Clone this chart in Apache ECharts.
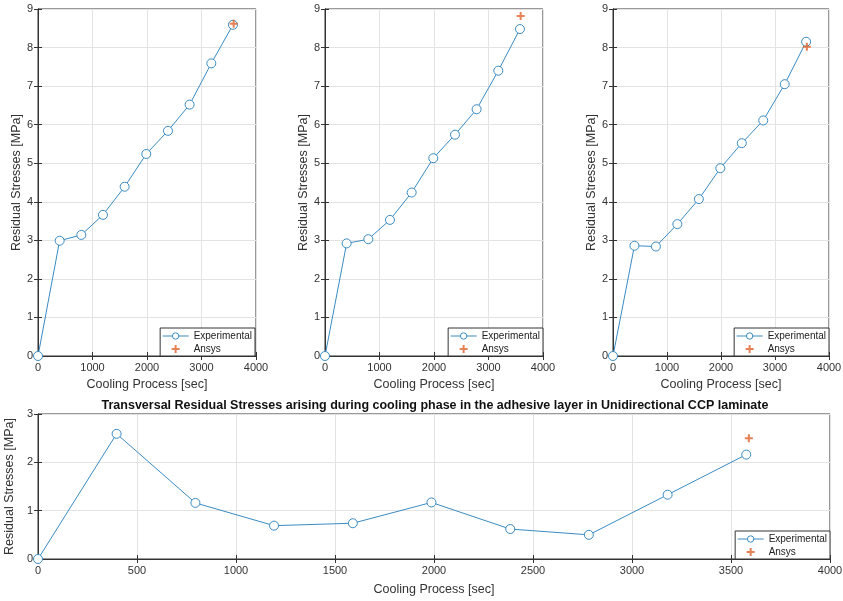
<!DOCTYPE html>
<html><head><meta charset="utf-8">
<script src="https://cdn.jsdelivr.net/npm/echarts@6/dist/echarts.min.js"></script>
<style>html,body{margin:0;padding:0;background:#fff}#c{width:843px;height:601px}</style>
</head><body><div id="c"></div>
<script>
var times = [0, 397, 795, 1192, 1590, 1987, 2385, 2782, 3180, 3577];
var exp1 = [0, 2.99, 3.14, 3.66, 4.39, 5.24, 5.84, 6.52, 7.59, 8.59];
var exp2 = [0, 2.92, 3.03, 3.53, 4.24, 5.13, 5.74, 6.40, 7.40, 8.48];
var exp3 = [0, 2.86, 2.84, 3.42, 4.07, 4.87, 5.52, 6.11, 7.05, 8.15];
var exp4 = [0, 2.59, 1.16, 0.69, 0.74, 1.17, 0.62, 0.50, 1.33, 2.16];
var ansysTime = 3590;
var ansys = [8.62, 8.82, 8.02, 2.50];
var titleText = 'Transversal Residual Stresses arising during cooling phase in the adhesive layer in Unidirectional CCP laminate';
var xName = 'Cooling Process [sec]';
var yName = 'Residual Stresses [MPa]';

var FONT = 'Liberation Sans';
var BLUE = '#3a8bc2';
var ORANGE = '#e0622a';
var PLUS = 'path://M3,0H5V3H8V5H5V8H3V5H0V3H3Z';

var grids = [
  {left: 38, top: 9, width: 218, height: 347},
  {left: 325, top: 9, width: 218, height: 347},
  {left: 613, top: 9, width: 216, height: 347},
  {left: 38, top: 414, width: 792, height: 145}
];
var expAll = [exp1, exp2, exp3, exp4];
var xAxes = [], yAxes = [], series = [], legends = [];
var legendPos = [
  {right: 588, bottom: 245},
  {right: 300, bottom: 245},
  {right: 14, bottom: 245},
  {right: 13, bottom: 42}
];
function plain(v){ return String(v); }
grids.forEach(function(g, i){
  g.show = true; g.borderColor = '#333'; g.borderWidth = 1; g.containLabel = false;
  g.outerBoundsMode = 'none';
  var bottomPlot = i === 3;
  var lblStyle = {color: '#333', fontFamily: FONT, fontSize: 11, formatter: plain};
  xAxes.push({
    type: 'value', gridIndex: i, min: 0, max: 4000, interval: bottomPlot ? 500 : 1000,
    name: xName, nameLocation: 'middle', nameGap: bottomPlot ? 24 : 20,
    nameTextStyle: {color: '#333', fontFamily: FONT, fontSize: 12.5},
    axisLine: {show: true, lineStyle: {color: '#333'}},
    axisTick: {show: true, inside: true, length: 4, lineStyle: {color: '#333'}},
    axisLabel: Object.assign({margin: 6}, lblStyle),
    splitLine: {show: true, lineStyle: {color: '#e3e3e3'}}
  });
  xAxes.push({
    type: 'value', gridIndex: i, min: 0, max: 4000, interval: bottomPlot ? 500 : 1000, position: 'top',
    axisLine: {show: true, lineStyle: {color: '#333'}},
    axisTick: {show: true, inside: true, length: 4, lineStyle: {color: '#333'}},
    axisLabel: {show: false}, splitLine: {show: false}
  });
  yAxes.push({
    type: 'value', gridIndex: i, min: 0, max: bottomPlot ? 3 : 9, interval: 1,
    name: yName, nameLocation: 'middle', nameGap: 15,
    nameTextStyle: {color: '#333', fontFamily: FONT, fontSize: 12.5},
    axisLine: {show: true, lineStyle: {color: '#333'}},
    axisTick: {show: true, inside: true, length: 4, lineStyle: {color: '#333'}},
    axisLabel: Object.assign({margin: 5}, lblStyle),
    splitLine: {show: true, lineStyle: {color: '#e3e3e3'}}
  });
  yAxes.push({
    type: 'value', gridIndex: i, min: 0, max: bottomPlot ? 3 : 9, interval: 1, position: 'right',
    axisLine: {show: true, lineStyle: {color: '#333'}},
    axisTick: {show: true, inside: true, length: 4, lineStyle: {color: '#333'}},
    axisLabel: {show: false}, splitLine: {show: false}
  });
  series.push({
    name: 'Experimental', type: 'line', xAxisIndex: 2*i, yAxisIndex: 2*i,
    data: times.map(function(t, k){ return [t, expAll[i][k]]; }),
    symbol: 'circle', symbolSize: 9, showAllSymbol: true,
    lineStyle: {color: BLUE, width: 1},
    itemStyle: {color: '#fff', borderColor: BLUE, borderWidth: 1},
    animation: false, z: 3
  });
  series.push({
    name: 'Ansys', type: 'scatter', xAxisIndex: 2*i, yAxisIndex: 2*i,
    data: [[ansysTime, ansys[i]]],
    symbol: PLUS, symbolSize: 8, itemStyle: {color: ORANGE},
    animation: false, z: 4
  });
  legends.push(Object.assign({
    orient: 'vertical', data: [
      {name: 'Experimental', itemStyle: {color: '#fff', borderColor: BLUE, borderWidth: 1}, lineStyle: {color: BLUE, width: 1}},
      {name: 'Ansys'}
    ],
    backgroundColor: '#fff', borderColor: '#333', borderWidth: 1,
    padding: [3, 3, 2, 2], itemGap: 3, itemWidth: 26, itemHeight: 8,
    textStyle: {color: '#222', fontFamily: FONT, fontSize: 10}, selectedMode: false
  }, legendPos[i]));
});

var chart = echarts.init(document.getElementById('c'), null, {renderer: 'canvas'});
chart.setOption({
  backgroundColor: '#fff',
  animation: false,
  title: {text: titleText, left: 430, textAlign: 'center', top: 394,
    textStyle: {fontFamily: FONT, fontSize: 12.5, fontWeight: 'bold', color: '#111'}},
  grid: grids, xAxis: xAxes, yAxis: yAxes, series: series, legend: legends
});
</script></body></html>
